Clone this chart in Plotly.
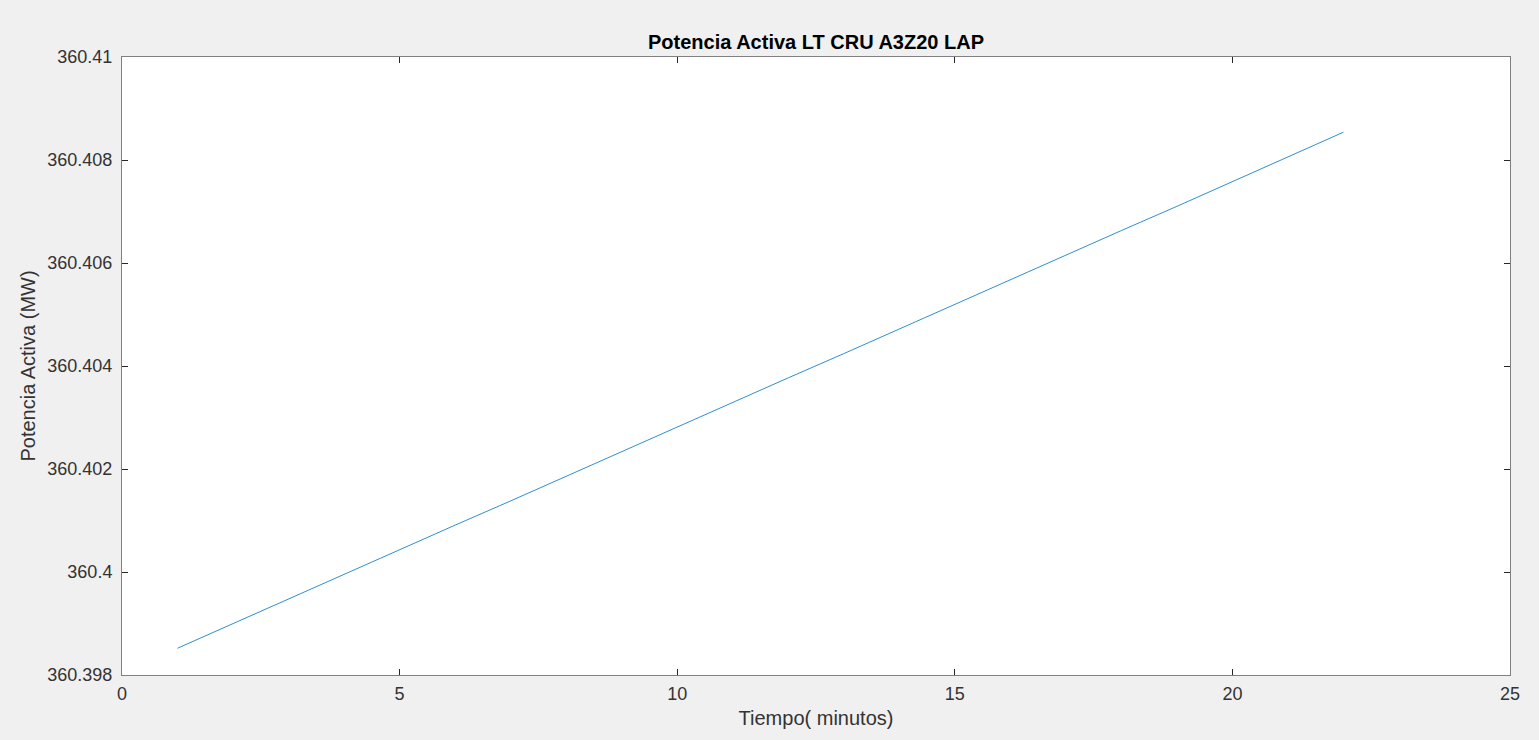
import plotly.graph_objects as go

minutes = list(range(1, 23))
power_mw = [360.39852, 360.39900, 360.39948, 360.39995, 360.40043, 360.40091,
            360.40138, 360.40186, 360.40234, 360.40281, 360.40329, 360.40377,
            360.40424, 360.40472, 360.40520, 360.40567, 360.40615, 360.40663,
            360.40710, 360.40758, 360.40806, 360.40854]

x_ticks = [0, 5, 10, 15, 20, 25]
y_ticks = [360.398, 360.400, 360.402, 360.404, 360.406, 360.408, 360.410]
y_ticktext = ["360.398", "360.4", "360.402", "360.404", "360.406", "360.408", "360.41"]

font_family = "Liberation Sans, Arial, Helvetica, sans-serif"
text_color = "#333333"

fig = go.Figure()
fig.add_trace(go.Scatter(x=minutes, y=power_mw, mode="lines",
                         line=dict(color="#2f8fd0", width=1), showlegend=False))

axis_common = dict(showgrid=False, zeroline=False, showline=True, linecolor="#808080",
                   linewidth=1, mirror="ticks", ticks="inside", ticklen=6,
                   tickcolor="#262626", tickwidth=1,
                   tickfont=dict(family=font_family, size=18, color=text_color))

fig.update_layout(
    width=1539, height=740,
    paper_bgcolor="#f0f0f0", plot_bgcolor="#ffffff",
    margin=dict(l=122, r=29, t=57, b=65),
    title=dict(text="<b>Potencia Activa LT CRU A3Z20 LAP</b>", x=0.5, xref="paper",
               xanchor="center", y=1, yref="paper", yanchor="bottom",
               pad=dict(b=8), font=dict(family=font_family, size=20, color="#000000")),
    xaxis=dict(range=[0, 25], tickvals=x_ticks, ticklabelstandoff=2,
               title=dict(text="Tiempo( minutos)", standoff=8,
                          font=dict(family=font_family, size=20, color=text_color)),
               **axis_common),
    yaxis=dict(range=[360.398, 360.41], tickvals=y_ticks, ticktext=y_ticktext,
               ticklabelstandoff=5,
               title=dict(text="Potencia Activa (MW)", standoff=6,
                          font=dict(family=font_family, size=20, color=text_color)),
               **axis_common),
)

fig.write_html("out.html")
